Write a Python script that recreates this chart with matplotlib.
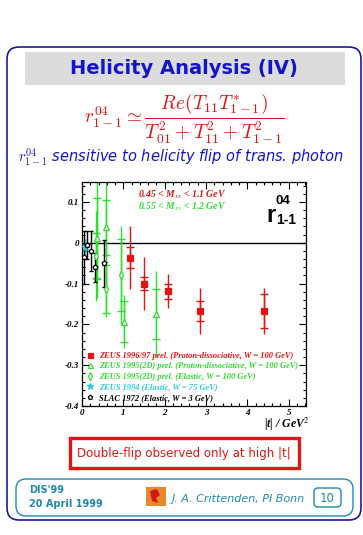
import matplotlib
matplotlib.use('Agg')
import matplotlib.pyplot as plt
from matplotlib.patches import FancyBboxPatch, Rectangle, Polygon
from matplotlib.ticker import MultipleLocator, FuncFormatter
from matplotlib.font_manager import FontProperties

# ZEUS 1996/97 prel. (proton-dissociative, W = 100 GeV)
t_zeus97 = [1.17, 1.49, 2.07, 2.86, 4.40]
r_zeus97 = [-0.037, -0.100, -0.119, -0.167, -0.167]
stat_zeus97 = [0.026, 0.015, 0.018, 0.025, 0.041]
tot_zeus97 = [0.077, 0.064, 0.042, 0.056, 0.057]

# ZEUS 1995(2D) prel. (proton-dissociative, W = 100 GeV)
t_pd95 = [0.36, 0.59, 1.02, 1.79]
r_pd95 = [0.011, 0.038, -0.193, -0.175]
stat_pd95 = [0.100, 0.068, 0.050, 0.061]
tot_pd95 = [0.146, 0.140, 0.066, 0.105]

# ZEUS 1995(2D) prel. (elastic, W = 100 GeV)
t_el95 = [0.34, 0.57, 0.94]
r_el95 = [-0.032, -0.113, -0.078]
stat_el95 = [0.055, 0.058, 0.088]
tot_el95 = [0.110, 0.070, 0.120]

# ZEUS 1994 (elastic, W = 75 GeV)
t_el94 = [0.08]
r_el94 = [-0.011]
stat_el94 = [0.008]
tot_el94 = [0.020]

# SLAC 1972 (elastic, W = 3 GeV)
t_slac = [0.05, 0.12, 0.21, 0.31, 0.53]
r_slac = [-0.035, -0.005, -0.020, -0.060, -0.050]
err_slac = [0.065, 0.035, 0.050, 0.035, 0.058]

labels = ['ZEUS 1996/97 prel. (Proton-dissociative, W = 100 GeV)',
          'ZEUS 1995(2D) prel. (Proton-dissociative, W = 100 GeV)',
          'ZEUS 1995(2D) prel. (Elastic, W = 100 GeV)',
          'ZEUS 1994 (Elastic, W = 75 GeV)',
          'SLAC 1972 (Elastic, W = 3 GeV)']

RED = '#e31414'
GREEN = '#30dc30'
CYAN = '#30c8d8'
BLUE = '#1414cc'
TEAL = '#2088b0'

W, H = 363, 535
fig = plt.figure(figsize=(W/100, H/100), dpi=100)

# slide background, drawn in pixel coordinates
bg = fig.add_axes([0, 0, 1, 1])
bg.set_xlim(0, W); bg.set_ylim(H, 0)
bg.axis('off')

bg.add_patch(FancyBboxPatch((7, 47), 354, 473, boxstyle='round,pad=0,rounding_size=12',
                            fc='white', ec='#1a1a9a', lw=1.2))
bg.add_patch(Rectangle((25, 52), 320, 33, fc='#dcdcdc', ec='none'))
bg.text(184, 69, 'Helicity Analysis (IV)', ha='center', va='center',
        fontsize=14, fontweight='bold', color=BLUE)
bg.text(184, 119, r'$r^{04}_{1-1} \simeq \dfrac{Re(T_{11}T^{*}_{1-1})}{T^2_{01}+T^2_{11}+T^2_{1-1}}$',
        ha='center', va='center', fontsize=14, color=RED, math_fontfamily='cm')
bg.text(181, 157, r'$r^{04}_{1-1}$ sensitive to helicity flip of trans. photon',
        ha='center', va='center', fontsize=10.5, style='italic', color=BLUE, math_fontfamily='cm')

# red box
bg.add_patch(Rectangle((70, 438), 229, 30, fc='none', ec=RED, lw=2.4))
bg.text(184, 453, 'Double-flip observed only at high |t|', ha='center', va='center',
        fontsize=8.5, color=RED)

# footer
bg.add_patch(FancyBboxPatch((16, 479), 337, 37, boxstyle='round,pad=0,rounding_size=10',
                            fc='none', ec=TEAL, lw=1))
bg.text(29, 490, "DIS'99", ha='left', va='center', fontsize=7, fontweight='bold', color=TEAL)
bg.text(29, 504, '20 April 1999', ha='left', va='center', fontsize=7, fontweight='bold', color=TEAL)
bg.add_patch(Rectangle((146, 487), 20, 19, fc='#e8882a', ec='none'))
bg.add_patch(Polygon([(150, 491), (157, 489), (160, 495), (156, 498), (158, 503), (152, 501)],
                     fc='#d01818', ec='none'))
bg.text(172, 499, 'J. A. Crittenden, PI Bonn', ha='left', va='center', fontsize=8,
        style='italic', color=TEAL)
bg.add_patch(FancyBboxPatch((314, 488), 27, 19, boxstyle='round,pad=0,rounding_size=4',
                            fc='none', ec=TEAL, lw=1))
bg.text(327.5, 498, '10', ha='center', va='center', fontsize=8.5, color=TEAL)

# x axis title
bg.text(287, 424, '|t| / GeV$^2$', ha='center', va='center', fontsize=8.5,
        family='Liberation Serif', style='italic', fontweight='bold', math_fontfamily='stix')

# the plot
ax = fig.add_axes([82/W, 1-406/H, 224/W, 224/H])
ax.set_xlim(0, 5.42)
ax.set_ylim(-0.4, 0.149)
ax.axhline(0, color='k', lw=1, zorder=1)

def draw_set(t, r, stat, tot, color, marker, mfc, label, cap=0, ms=4):
    ax.errorbar(t, r, yerr=tot, fmt='none', ecolor=color, elinewidth=1, capsize=cap, capthick=1)
    if stat is not None:
        ax.errorbar(t, r, yerr=stat, fmt='none', ecolor=color, elinewidth=1, capsize=3, capthick=1)
    ax.plot(t, r, ls='none', marker=marker, color=color, mfc=mfc, mec=color, ms=ms, mew=0.9,
            label=label, zorder=5)

draw_set(t_zeus97, r_zeus97, stat_zeus97, tot_zeus97, RED, 's', RED, labels[0])
draw_set(t_pd95, r_pd95, stat_pd95, tot_pd95, GREEN, '^', 'white', labels[1])
draw_set(t_el95, r_el95, stat_el95, tot_el95, GREEN, 'd', 'white', labels[2])
draw_set(t_el94, r_el94, stat_el94, tot_el94, CYAN, '*', CYAN, labels[3], ms=5)
draw_set(t_slac, r_slac, None, err_slac, 'black', 'p', 'white', labels[4], cap=1.5, ms=3.5)

ax.xaxis.set_major_locator(MultipleLocator(1))
ax.xaxis.set_minor_locator(MultipleLocator(0.2))
ax.yaxis.set_major_locator(MultipleLocator(0.1))
ax.yaxis.set_minor_locator(MultipleLocator(0.02))
fmt = FuncFormatter(lambda v, p: '%g' % (round(v, 3) + 0.0))
ax.xaxis.set_major_formatter(fmt)
ax.yaxis.set_major_formatter(fmt)
ax.tick_params(which='both', direction='in', top=True, right=True, width=0.8, pad=2)
ax.tick_params(which='major', length=5)
ax.tick_params(which='minor', length=2.5)
fp_tick = FontProperties(family='Liberation Serif', style='italic', weight='bold', size=6.5)
for lab in ax.get_xticklabels() + ax.get_yticklabels():
    lab.set_fontproperties(fp_tick)
for s in ax.spines.values():
    s.set_linewidth(0.9)

fp_leg = FontProperties(family='Liberation Serif', style='italic', weight='bold', size=6)
ax.legend(loc='lower left', bbox_to_anchor=(0, 0), borderaxespad=0.2, borderpad=0.3,
          frameon=False, prop=fp_leg, handlelength=1.0, handletextpad=0.5, labelspacing=0.3,
          labelcolor=[RED, GREEN, GREEN, CYAN, 'black'], markerscale=0.9)

fp_m = FontProperties(family='Liberation Serif', style='italic', weight='bold', size=7)
ax.text(0.25, 0.942, '0.45 < M$_{xx}$ < 1.1 GeV', transform=ax.transAxes, color=RED,
        fontproperties=fp_m, math_fontfamily='stix', va='center')
ax.text(0.25, 0.888, '0.55 < M$_{xx}$ < 1.2 GeV', transform=ax.transAxes, color=GREEN,
        fontproperties=fp_m, math_fontfamily='stix', va='center')
ax.text(0.897, 0.915, '04', transform=ax.transAxes, ha='center', va='center',
        family='Liberation Sans', fontweight='bold', fontsize=9.5)
ax.text(0.844, 0.85, 'r', transform=ax.transAxes, ha='center', va='center',
        family='Liberation Sans', fontweight='bold', fontsize=17)
ax.text(0.913, 0.83, '1-1', transform=ax.transAxes, ha='center', va='center',
        family='Liberation Sans', fontweight='bold', fontsize=10)

fig.savefig('out.png', dpi=100)
